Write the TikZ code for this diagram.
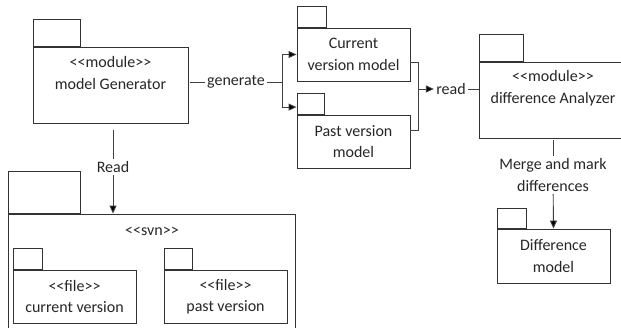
\documentclass[tikz,border=0pt]{standalone}
\usepackage{fontspec}
\setmainfont{Carlito}
\usetikzlibrary{arrows.meta}
\newcommand{\stereo}[1]{<{}<#1>{}>}

\begin{document}
\begin{tikzpicture}[x=1pt,y=-1pt,line width=0.9pt,
   every node/.style={font=\fontsize{16}{21.5}\selectfont,text=black!85},
   pkg/.style={draw=black!80,inner sep=0pt,align=center},
   tab/.style={draw=black!80,inner sep=0pt,anchor=south west},
   txt/.style={inner sep=2pt,align=center},
   arr/.style={-{Triangle[length=8pt,width=7pt]}},
   link/.style={draw=black!75}]
   \useasboundingbox (0,0) rectangle (621,327);
   \node[pkg,minimum width=155pt,minimum height=76pt] (gen) at (110.5,85) {};
   \node[tab,minimum width=47pt,minimum height=27pt] (gentab) at (gen.north west) {};
   \node[txt] (genlbl) at (110.5,73) {\stereo{module}\\model Generator};
   \node[pkg,minimum width=113pt,minimum height=53pt] (cur) at (353.5,54.5) {Current\\version model};
   \node[tab,minimum width=29pt,minimum height=21pt] (curtab) at (cur.north west) {};
   \node[pkg,minimum width=113pt,minimum height=53pt] (past) at (353.5,141.5) {Past version\\model};
   \node[tab,minimum width=27pt,minimum height=21pt] (pasttab) at (past.north west) {};
   \node[pkg,minimum width=148pt,minimum height=76pt] (ana) at (553,100) {};
   \node[tab,minimum width=44pt,minimum height=27pt] (anatab) at (ana.north west) {};
   \node[txt] (analbl) at (553,88) {\stereo{module}\\difference Analyzer};
   \node[pkg,minimum width=113pt,minimum height=54pt] (diff) at (553.5,256) {Difference\\model};
   \node[tab,minimum width=29pt,minimum height=20pt] (difftab) at (diff.north west) {};
   \node[pkg,minimum width=287pt,minimum height=126pt] (svn) at (151.5,277) {};
   \node[tab,minimum width=72pt,minimum height=42pt] (svntab) at (svn.north west) {};
   \node[txt] (svnlbl) at (152,231) {\stereo{svn}};
   \node[pkg,minimum width=123pt,minimum height=53pt] (curf) at (74.5,296.5) {\stereo{file}\\current version};
   \node[tab,minimum width=29pt,minimum height=21pt] (curftab) at (curf.north west) {};
   \node[pkg,minimum width=123pt,minimum height=53pt] (pastf) at (225.5,296.5) {\stereo{file}\\past version};
   \node[tab,minimum width=28pt,minimum height=21pt] (pastftab) at (pastf.north west) {};
   \node[txt] (gentxt) at (236,82) {generate};
   \node[txt] (readtxt) at (451,89) {read};
   \node[txt] (mergetxt) at (553,175) {Merge and mark\\differences};
   \node[txt] (rdtxt) at (113,167) {Read};
   \coordinate (split) at (282,82);
   \coordinate (merge) at (418,89);
   \path[link]
    ([xshift=1.5pt]gen.east |- gentxt) edge (gentxt)
    (gentxt) edge (split)
    (split) edge[arr,to path={|- (\tikztotarget)}] (cur.west)
    (split) edge[arr,to path={|- (\tikztotarget)}] ([yshift=-3.5pt]pasttab.west)
    ([yshift=-7.5pt]cur.east) edge[to path={-| (\tikztotarget)}] (merge)
    ([yshift=11.5pt]past.east) edge[to path={-| (\tikztotarget)}] (merge)
    (merge) edge[arr] (readtxt.west)
    (readtxt) edge (ana.west |- readtxt)
    (ana.south) edge[shorten <=2pt] (mergetxt)
    (mergetxt) edge[arr] (diff.north)
    (rdtxt |- gen.south) edge[shorten <=7pt] (rdtxt)
    (rdtxt) edge[arr] (rdtxt |- svn.north);
\end{tikzpicture}
\end{document}
